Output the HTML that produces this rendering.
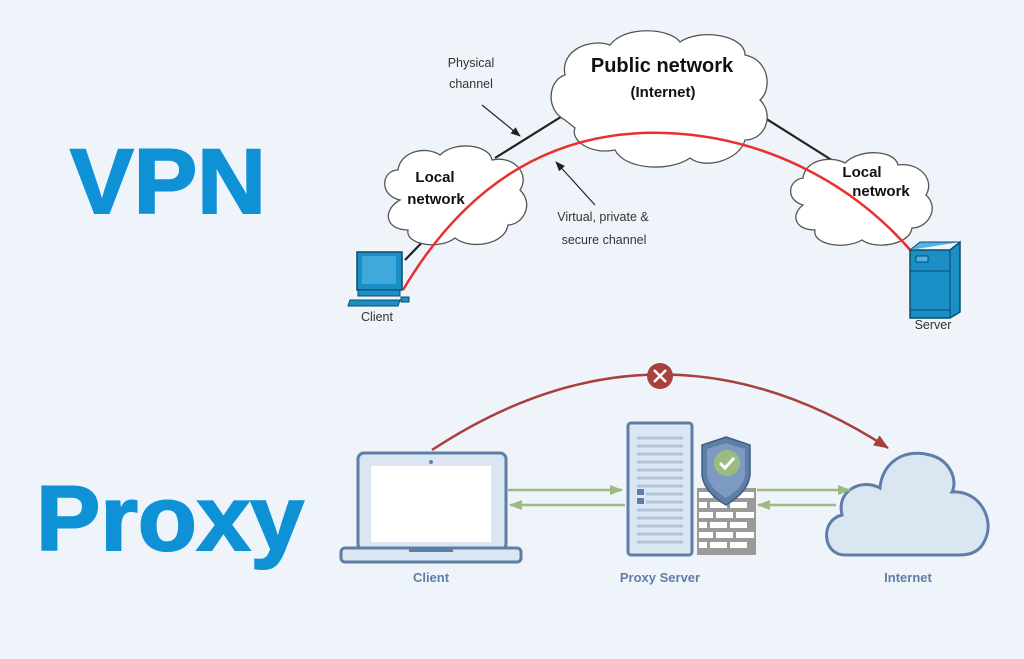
<!DOCTYPE html>
<html><head><style>
body{margin:0;width:1024px;height:654px;background:#eef4fa;overflow:hidden;font-family:"Liberation Sans",sans-serif}
</style></head><body>
<svg width="1024" height="654" viewBox="0 0 1024 654" xmlns="http://www.w3.org/2000/svg">
<rect width="1024" height="654" fill="#eef4fa"/>
<text x="70" y="213" font-size="92" font-weight="bold" fill="#0f91d6" stroke="#0f91d6" stroke-width="2" textLength="196" lengthAdjust="spacingAndGlyphs" font-family="Liberation Sans,sans-serif">VPN</text>
<text x="36" y="550" font-size="92" font-weight="bold" fill="#0f91d6" stroke="#0f91d6" stroke-width="2" textLength="268" lengthAdjust="spacingAndGlyphs" font-family="Liberation Sans,sans-serif">Proxy</text>
<defs><marker id="ah" markerUnits="userSpaceOnUse" markerWidth="10" markerHeight="10" refX="9" refY="4" orient="auto"><path d="M0,0L10,4L0,8z" fill="#222"/></marker>
<marker id="rh" markerUnits="userSpaceOnUse" markerWidth="16" markerHeight="14" refX="14" refY="6" orient="auto"><path d="M0,0L15,6L0,12z" fill="#a8403d"/></marker>
<marker id="gh" markerUnits="userSpaceOnUse" markerWidth="14" markerHeight="12" refX="12" refY="5" orient="auto"><path d="M0,0L13,5L0,10z" fill="#9dba82"/></marker></defs>
<g stroke="#222" stroke-width="2.2">
<line x1="495" y1="158" x2="564" y2="115"/><line x1="757" y1="113" x2="838" y2="164"/>
<line x1="405" y1="260" x2="432" y2="232"/><line x1="912" y1="250" x2="920" y2="262"/>
</g>
<g fill="#fff" stroke="#555" stroke-width="1.3">
<path d="M565,120 C545,110 548,80 565,75 C560,50 590,38 610,45 C625,25 670,28 680,42 C700,28 745,35 745,55 C770,60 772,90 760,100 C775,115 765,140 745,140 C740,160 705,170 690,158 C670,172 625,170 615,150 C590,155 570,140 575,128 Z"/>
<path d="M400,200 C378,195 382,170 398,170 C400,152 425,145 440,155 C455,140 490,145 492,160 C515,155 530,175 520,190 C535,205 522,225 508,225 C505,245 470,250 455,238 C440,250 405,245 408,230 C385,230 382,210 400,200 Z"/>
<path d="M803,205 C785,200 788,180 803,178 C805,160 830,155 845,163 C860,148 895,150 898,165 C920,162 935,180 926,195 C940,208 928,228 912,228 C910,245 875,250 862,240 C845,250 812,245 815,230 C795,230 790,215 803,205 Z"/>
</g>
<g font-family="Liberation Sans,sans-serif" font-weight="bold" fill="#111" text-anchor="middle">
<text x="662" y="72" font-size="20">Public network</text><text x="663" y="97" font-size="15">(Internet)</text>
<text x="435" y="182" font-size="15">Local</text><text x="436" y="204" font-size="15">network</text>
<text x="862" y="177" font-size="15">Local</text><text x="881" y="196" font-size="15">network</text>
</g>
<path d="M403,290 C480,160 580,130 665,133 C760,136 850,180 912,252" fill="none" stroke="#e8312f" stroke-width="2.5"/>
<g font-size="12.5" fill="#333" text-anchor="middle">
<text x="471" y="67">Physical</text><text x="471" y="88">channel</text>
<text x="603" y="221">Virtual, private &amp;</text><text x="604" y="244">secure channel</text>
<text x="377" y="321">Client</text><text x="933" y="329">Server</text>
</g>
<line x1="482" y1="105" x2="520" y2="136" stroke="#222" stroke-width="1.2" marker-end="url(#ah)"/>
<line x1="595" y1="205" x2="556" y2="162" stroke="#222" stroke-width="1.2" marker-end="url(#ah)"/>
<rect x="357" y="252" width="45" height="38" fill="#1a8fc6" stroke="#0d4b6b" stroke-width="1.5"/>
<rect x="362" y="256" width="34" height="28" fill="#3fa9dc"/>
<rect x="358" y="290" width="42" height="6" fill="#1a8fc6" stroke="#0d4b6b"/>
<path d="M350,300 L400,300 L398,306 L348,306Z" fill="#1a8fc6" stroke="#0d4b6b"/>
<rect x="401" y="297" width="8" height="5" fill="#1a8fc6" stroke="#0d4b6b"/>
<path d="M910,250 L950,250 L960,242 L960,312 L950,318 L910,318Z" fill="#1a8fc6" stroke="#0d4b6b" stroke-width="1.5"/>
<path d="M910,250 L920,242 L960,242" fill="#4fb3e3" stroke="#0d4b6b"/>
<line x1="950" y1="250" x2="950" y2="318" stroke="#0d4b6b"/>
<rect x="916" y="256" width="12" height="6" fill="#4fb3e3" stroke="#0d4b6b"/>
<line x1="910" y1="271" x2="950" y2="271" stroke="#0d4b6b"/><line x1="910" y1="310" x2="950" y2="310" stroke="#0d4b6b"/>
<path d="M432,450 Q660,300 888,448" fill="none" stroke="#a8403d" stroke-width="2.5" marker-end="url(#rh)"/>
<circle cx="660" cy="376" r="13" fill="#a8403d"/>
<path d="M654,370L666,382M666,370L654,382" stroke="#fff" stroke-width="2.5"/>
<rect x="358" y="453" width="148" height="97" rx="6" fill="#dbe6f3" stroke="#5f7ea6" stroke-width="3"/>
<rect x="371" y="466" width="120" height="76" fill="#fff"/>
<circle cx="431" cy="462" r="2" fill="#5f7ea6"/>
<rect x="341" y="548" width="180" height="14" rx="4" fill="#dbe6f3" stroke="#5f7ea6" stroke-width="3"/>
<rect x="409" y="548" width="44" height="4" fill="#5f7ea6"/>
<rect x="628" y="423" width="64" height="132" rx="3" fill="#dbe6f3" stroke="#5f7ea6" stroke-width="3"/>
<g stroke="#b4c4d8" stroke-width="3">
<line x1="637" y1="438" x2="683" y2="438"/><line x1="637" y1="446" x2="683" y2="446"/><line x1="637" y1="454" x2="683" y2="454"/><line x1="637" y1="462" x2="683" y2="462"/><line x1="637" y1="470" x2="683" y2="470"/><line x1="637" y1="478" x2="683" y2="478"/><line x1="637" y1="486" x2="683" y2="486"/><line x1="646" y1="494" x2="683" y2="494"/><line x1="646" y1="502" x2="683" y2="502"/><line x1="637" y1="510" x2="683" y2="510"/><line x1="637" y1="518" x2="683" y2="518"/><line x1="637" y1="526" x2="683" y2="526"/><line x1="637" y1="534" x2="683" y2="534"/><line x1="637" y1="542" x2="683" y2="542"/></g>
<rect x="637" y="489" width="7" height="6" fill="#5f7ea6"/><rect x="637" y="498" width="7" height="6" fill="#5f7ea6"/>
<rect x="697" y="488" width="59" height="67" fill="#9a9a9a"/>
<g fill="#fff">
<rect x="699" y="492" width="14" height="6"/><rect x="716" y="492" width="17" height="6"/><rect x="736" y="492" width="18" height="6"/>
<rect x="699" y="502" width="8" height="6"/><rect x="710" y="502" width="17" height="6"/><rect x="730" y="502" width="17" height="6"/>
<rect x="699" y="512" width="14" height="6"/><rect x="716" y="512" width="17" height="6"/><rect x="736" y="512" width="18" height="6"/>
<rect x="699" y="522" width="8" height="6"/><rect x="710" y="522" width="17" height="6"/><rect x="730" y="522" width="17" height="6"/>
<rect x="699" y="532" width="14" height="6"/><rect x="716" y="532" width="17" height="6"/><rect x="736" y="532" width="18" height="6"/>
<rect x="699" y="542" width="8" height="6"/><rect x="710" y="542" width="17" height="6"/><rect x="730" y="542" width="17" height="6"/>
</g>
<path d="M726,437 L750,445 L750,475 Q748,492 726,505 Q704,492 702,475 L702,445Z" fill="#5f7ea6" stroke="#3f5e86" stroke-width="1.5"/>
<path d="M726,443 L745,449 L745,475 Q743,488 726,498 Q709,488 707,475 L707,449Z" fill="#7d9ac0"/>
<circle cx="727" cy="463" r="13" fill="#9dba82"/>
<path d="M720,463 L725,468 L734,458" fill="none" stroke="#fff" stroke-width="3"/>
<path d="M845,555 C822,555 820,520 842,515 C836,490 862,478 880,488 C882,462 905,448 930,455 C950,460 958,480 952,492 C980,490 995,520 985,540 C980,552 970,555 960,555Z" fill="#dbe6f3" stroke="#5f7ea6" stroke-width="3"/>
<g stroke="#9dba82" stroke-width="2.5">
<line x1="508" y1="490" x2="622" y2="490" marker-end="url(#gh)"/><line x1="625" y1="505" x2="510" y2="505" marker-end="url(#gh)"/>
<line x1="757" y1="490" x2="850" y2="490" marker-end="url(#gh)"/><line x1="836" y1="505" x2="758" y2="505" marker-end="url(#gh)"/>
</g>
<g font-size="13" font-weight="bold" fill="#5f7ea6" text-anchor="middle">
<text x="431" y="582">Client</text><text x="660" y="582">Proxy Server</text><text x="908" y="582">Internet</text>
</g>
</svg>
</body></html>
